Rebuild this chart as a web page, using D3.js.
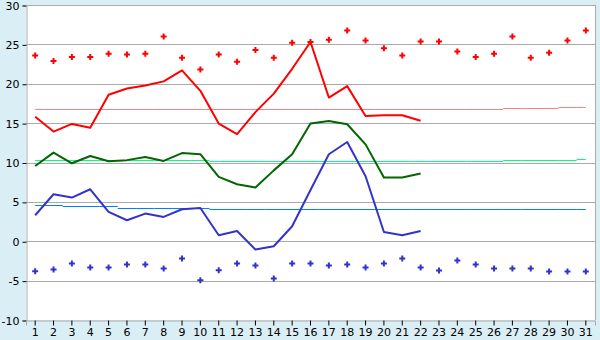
<!DOCTYPE html>
<html>
<head>
<meta charset="utf-8">
<style>
  body { margin: 0; background: #daeef5; }
  svg { display: block; }
  .tick text { font-family: "DejaVu Sans", Verdana, sans-serif; font-size: 11px; fill: #000; }
</style>
<script src="https://d3js.org/d3.v7.min.js"></script>
</head>
<body>
<div id="chart"></div>
<script>
var days = d3.range(1, 32);
var yTicks = [-10, -5, 0, 5, 10, 15, 20, 25, 30];

// upper and lower dot series (31 days)
var redDots = [23.6, 22.9, 23.4, 23.4, 23.8, 23.7, 23.8, 26.0, 23.3, 21.8,
               23.7, 22.8, 24.3, 23.3, 25.2, 25.3, 25.6, 26.75, 25.5, 24.5,
               23.6, 25.35, 25.35, 24.1, 23.4, 23.8, 26.0, 23.3, 23.95, 25.5, 26.75];
var blueDots = [-3.8, -3.6, -2.83, -3.34, -3.34, -2.96, -2.96, -3.47, -2.2, -4.95,
                -3.68, -2.83, -3.09, -4.74, -2.83, -2.83, -3.09, -2.96, -3.34, -2.83,
                -2.2, -3.34, -3.72, -2.45, -2.96, -3.47, -3.47, -3.47, -3.85, -3.85, -3.85];

// main lines (22 days)
var redLine = [15.8, 13.93, 14.9, 14.4, 18.6, 19.4, 19.77, 20.3, 21.7, 19.1,
               14.95, 13.6, 16.4, 18.75, 21.9, 25.3, 18.25, 19.7, 15.9, 16.0, 16.0, 15.3];
var greenLine = [9.56, 11.26, 9.9, 10.83, 10.16, 10.3, 10.7, 10.2, 11.2, 11.05,
                 8.17, 7.24, 6.82, 9.0, 11.05, 14.95, 15.28, 14.86, 12.3, 8.09, 8.1, 8.6];
var blueLine = [3.3, 5.97, 5.55, 6.6, 3.72, 2.67, 3.51, 3.09, 4.06, 4.23,
                0.76, 1.31, -1.05, -0.63, 1.9, 6.5, 11.05, 12.6, 8.25, 1.18, 0.76, 1.31];

// running means (31 days)
var redMean = [16.85, 16.85, 16.85, 16.85, 16.85, 16.85, 16.76, 16.76, 16.76, 16.76,
               16.76, 16.76, 16.76, 16.76, 16.76, 16.76, 16.76, 16.76, 16.76, 16.85,
               16.85, 16.85, 16.85, 16.85, 16.85, 16.85, 16.97, 16.97, 16.97, 17.1, 17.1];
var greenMean = [10.35, 10.35, 10.35, 10.35, 10.35, 10.35, 10.35, 10.35, 10.35, 10.35,
                 10.25, 10.25, 10.25, 10.25, 10.25, 10.25, 10.25, 10.25, 10.25, 10.25,
                 10.25, 10.25, 10.25, 10.25, 10.25, 10.25, 10.37, 10.37, 10.37, 10.37, 10.5];
var blueMean = [4.6, 4.6, 4.48, 4.48, 4.48, 4.23, 4.23, 4.23, 4.23, 4.23,
                4.15, 4.15, 4.15, 4.15, 4.15, 4.15, 4.15, 4.15, 4.15, 4.15,
                4.15, 4.15, 4.15, 4.15, 4.15, 4.15, 4.15, 4.15, 4.15, 4.15, 4.15];

var W = 600, H = 340;
var margin = { top: 5, right: 5, bottom: 20, left: 26 };

var svg = d3.select("#chart").append("svg")
    .attr("width", W)
    .attr("height", H);

var x = d3.scaleBand().domain(days).range([margin.left, W - margin.right]);
var y = d3.scaleLinear().domain([-10, 30]).range([H - margin.bottom, margin.top]);
var bw = x.bandwidth();
var cx = function(i) { return x(days[i]) + bw / 2; };

// plot area
svg.append("rect")
    .attr("x", margin.left)
    .attr("y", margin.top)
    .attr("width", W - margin.left - margin.right)
    .attr("height", H - margin.top - margin.bottom)
    .attr("fill", "#fff");

// grid
svg.append("g")
    .selectAll("line")
    .data(yTicks.filter(d => d > -10))
    .join("line")
    .attr("x1", margin.left)
    .attr("x2", W - margin.right)
    .attr("y1", d => Math.round(y(d)) + 0.5)
    .attr("y2", d => Math.round(y(d)) + 0.5)
    .attr("stroke", "#aaa")
    .attr("stroke-width", 1);

// right border
svg.append("line")
    .attr("x1", W - margin.right + 0.5).attr("x2", W - margin.right + 0.5)
    .attr("y1", margin.top).attr("y2", H - margin.bottom)
    .attr("stroke", "#aaa");

// axes
var yAxis = svg.append("g")
    .attr("transform", "translate(" + (margin.left + 0.5) + ",0.5)")
    .call(d3.axisLeft(y).tickValues(yTicks).tickSize(4).tickPadding(3).tickFormat(d => String(d)));

var xAxis = svg.append("g")
    .attr("transform", "translate(0," + (Math.round(y(-10)) + 0.5) + ")")
    .call(d3.axisBottom(x).tickSize(5).tickPadding(3));

[yAxis, xAxis].forEach(function(a) {
    a.select(".domain").attr("stroke", "#aaa");
    a.selectAll(".tick line").attr("stroke", "#000");
});

// mean lines: one flat piece per day, from midpoint to midpoint
function stepLine(values, col) {
    var n = values.length;
    svg.append("g")
        .selectAll("line")
        .data(values)
        .join("line")
        .attr("x1", (d, i) => i === 0 ? cx(0) : cx(i) - bw / 2)
        .attr("x2", (d, i) => i === n - 1 ? cx(n - 1) : cx(i) + bw / 2)
        .attr("y1", d => Math.round(y(d)) + 0.5)
        .attr("y2", d => Math.round(y(d)) + 0.5)
        .attr("stroke", col)
        .attr("stroke-width", 1);
}
stepLine(redMean, "#ff8080");
stepLine(greenMean, "#00ff80");
stepLine(blueMean, "#0080ff");

// main lines
function mainLine(values, col) {
    svg.append("path")
        .datum(values)
        .attr("fill", "none")
        .attr("stroke", col)
        .attr("stroke-width", 2)
        .attr("stroke-linejoin", "round")
        .attr("d", d3.line()
            .x((d, i) => cx(i))
            .y(d => y(d)));
}
mainLine(redLine, "#ff0000");
mainLine(greenLine, "#006600");
mainLine(blueLine, "#3333cc");

// dots
function dots(values, col) {
    svg.append("g")
        .selectAll("path")
        .data(values)
        .join("path")
        .attr("transform", (d, i) => "translate(" + cx(i) + "," + y(d) + ")")
        .attr("d", d3.symbol().type(d3.symbolCross).size(20))
        .attr("fill", col);
}
dots(redDots, "#ff0000");
dots(blueDots, "#3333cc");

// top border
svg.append("line")
    .attr("x1", margin.left).attr("x2", W - margin.right + 1)
    .attr("y1", margin.top + 0.5).attr("y2", margin.top + 0.5)
    .attr("stroke", "#aaa");
</script>
</body>
</html>
